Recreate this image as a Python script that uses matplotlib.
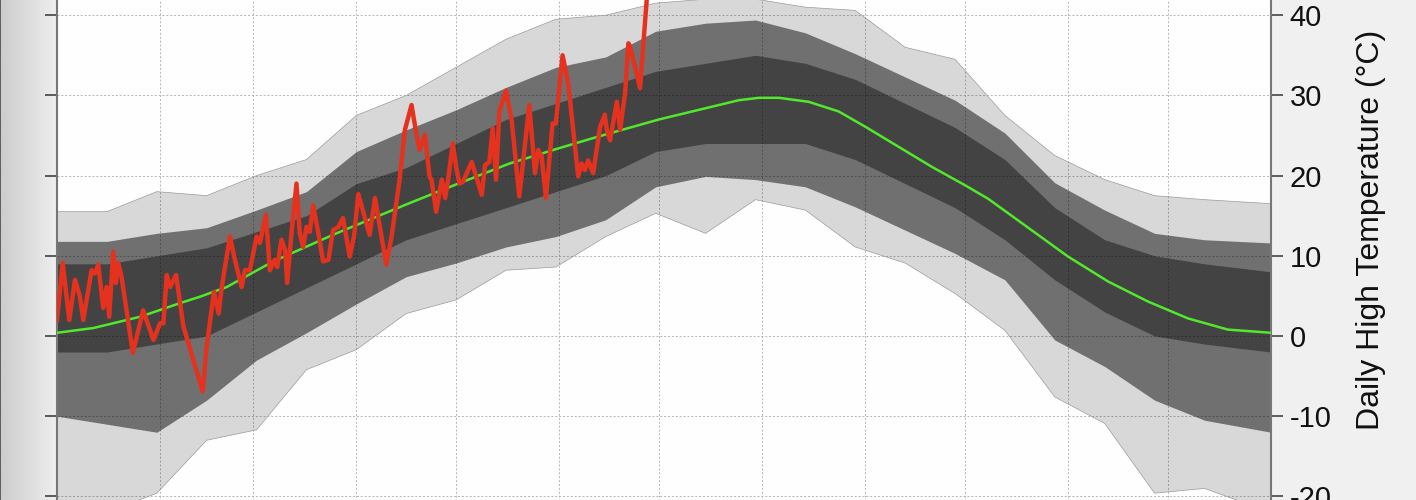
import numpy as np
import matplotlib
matplotlib.use('Agg')
import matplotlib.pyplot as plt

plt.rcParams['font.family'] = ['Liberation Sans', 'DejaVu Sans']
plt.rcParams['axes.unicode_minus'] = False

# month starts (day of year) used for the vertical grid
month_starts = [0, 31, 59, 90, 120, 151, 181, 212, 243, 273, 304, 334, 365]
y_ticks = [-20, -10, 0, 10, 20, 30, 40]

# climatological mean daily high (green)
clim_day = [0, 11, 25, 37, 43, 51, 65, 84, 91, 105, 120, 136, 150, 163, 181, 193,
            205, 211, 217, 226, 235, 243, 253, 263, 273, 280, 292, 304, 316, 328,
            340, 352, 365]
clim_temp = [0.4, 1.0, 2.4, 4.1, 4.9, 6.1, 9.3, 12.8, 14.0, 16.4, 18.9, 21.5, 23.3,
             24.9, 27.0, 28.2, 29.4, 29.7, 29.7, 29.2, 28.0, 26.1, 23.6, 21.1, 18.8,
             17.1, 13.5, 9.9, 6.8, 4.3, 2.2, 0.8, 0.4]

# spread of all past years (black band), read per half month
band_day = [0, 15, 30, 45, 60, 75, 90, 105, 120, 135, 150, 165, 180, 195, 210, 225,
            240, 255, 270, 285, 300, 315, 330, 345, 365]
band_max = [15.5, 15.5, 18, 17.5, 20, 22, 27.5, 30, 33.5, 37, 39.5, 40, 41.5, 42, 42,
            41, 40.6, 36, 34.5, 27.5, 22.5, 19.5, 17.5, 17, 16.5]
band_hi = [11.8, 11.8, 12.8, 13.5, 15.7, 18, 23, 25.7, 28.2, 31, 33.5, 34.8, 38, 39,
           39.4, 37.8, 35.2, 32.3, 29.4, 25.3, 19.1, 15.7, 12.8, 12, 11.6]
band_core_hi = [9, 9, 10, 11, 13, 15, 19, 21, 24, 27, 29, 31, 33, 34, 35, 34, 32, 29,
                26, 22, 16, 12, 10, 9, 8]
band_core_lo = [-2, -2, -1, 0, 3, 6, 9, 12, 14, 16, 18, 20, 23, 24, 24, 24, 22, 19,
                16, 12, 7, 3, 0, -1, -2]
band_lo = [-10, -11, -12, -8, -3, 0.4, 4, 7.4, 9.1, 11.1, 12.4, 14.5, 18.6, 19.9,
           19.5, 18.6, 16.1, 13.2, 10.3, 7.0, -0.5, -3.8, -8, -10.5, -12]
band_min = [-22, -22, -19.6, -13, -11.7, -4.2, -1.7, 2.8, 4.5, 8.2, 8.6, 12.4, 15.3,
            12.8, 17, 15.7, 11.1, 9.1, 5.3, 0.7, -7.6, -10.9, -19.6, -19, -22]

# current year (red)
red_day = [0, 1.7, 3.7, 5.4, 6.9, 7.9, 10.4, 11.4, 12.4, 13.9,
           14.9, 15.7, 16.9, 17.7, 18.4, 19.4, 22.8, 25.9, 29.0, 31.0,
           32.0, 33.0, 34.0, 35.8, 38.0, 43.8, 45.0, 47.2, 48.6, 49.4,
           50.2, 52.0, 53.5, 55.5, 56.5, 58.0, 60.0, 61.0, 62.8, 64.0,
           65.5, 66.2, 67.5, 68.6, 69.2, 70.5, 72.0, 73.0, 74.0, 75.0,
           76.0, 77.0, 78.6, 80.0, 81.6, 83.0, 84.6, 86.0, 88.0, 89.3,
           90.6, 94.0, 95.6, 99.0, 100.6, 103.0, 104.6, 106.6, 108.0, 109.0,
           110.6, 112.0, 112.6, 114.0, 115.7, 116.7, 117.6, 119.0, 120.0, 121.0,
           122.0, 124.7, 127.7, 128.7, 130.0, 131.0, 132.0, 133.0, 135.0, 136.7,
           139.0, 142.0, 143.7, 144.7, 145.7, 147.0, 149.0, 150.0, 152.0, 153.7,
           156.7, 157.7, 158.7, 159.7, 161.2, 163.3, 164.7, 165.3, 166.3, 168.3,
           169.3, 170.8, 171.8, 172.3, 175.3, 177.3, 178.0]
red_temp = [2.0, 9.1, 2.0, 7.0, 4.9, 2.0, 8.2, 7.8, 8.9, 3.5,
            6.1, 2.4, 10.5, 6.6, 9.1, 7.4, -2.1, 3.2, -0.5, 1.6,
            1.6, 7.6, 6.1, 7.6, 1.2, -6.9, -1.3, 5.5, 2.8, 5.7,
            7.8, 12.4, 9.5, 6.1, 8.2, 8.2, 12.4, 11.6, 15.1, 8.2,
            9.5, 8.6, 12.0, 10.7, 6.6, 12.8, 19.0, 12.8, 11.1, 13.6,
            13.0, 16.3, 12.8, 9.3, 9.5, 13.2, 13.6, 14.7, 9.9, 12.4,
            17.7, 12.6, 17.2, 8.9, 12.4, 19.5, 25.7, 28.8, 25.3, 23.2,
            25.1, 19.9, 19.5, 15.5, 19.5, 17.2, 19.5, 24.0, 21.1, 19.0,
            19.2, 21.7, 17.6, 21.3, 21.7, 25.9, 19.5, 28.0, 30.6, 26.9,
            17.4, 28.8, 20.3, 23.2, 22.4, 17.2, 26.5, 26.5, 35.0, 31.5,
            19.9, 21.5, 20.7, 21.9, 20.3, 26.1, 27.6, 25.7, 24.4, 29.2,
            25.7, 30.3, 36.5, 36.1, 30.9, 41.9, 44.0]


fig = plt.figure(figsize=(14.16, 5.0), dpi=100)
fig.patch.set_facecolor('#f0f0f0')

# grey gradient strip on the left
bg = fig.add_axes([0, 0, 55 / 1416, 1])
grad = np.linspace(0.80, 0.93, 64).reshape(1, -1)
bg.imshow(grad, aspect='auto', cmap='gray', vmin=0, vmax=1, extent=[0, 1, 0, 1])
bg.axvline(0.008, color='#4a4a4a', lw=1.2)
bg.set_axis_off()

ax = fig.add_axes([57 / 1416, -0.02488, 1214 / 1416, 1.02656])
ax.set_facecolor('#fefefe')

ax.fill_between(band_day, band_min, band_max, color='black', alpha=0.15, lw=0, zorder=2)
ax.fill_between(band_day, band_lo, band_hi, color='black', alpha=0.48, lw=0, zorder=2)
ax.fill_between(band_day, band_core_lo, band_core_hi, color='black', alpha=0.4, lw=0, zorder=2)
ax.plot(band_day, band_max, color='#9a9a9a', lw=0.5, zorder=2)
ax.plot(band_day, band_min, color='#9a9a9a', lw=0.5, zorder=2)

ax.plot(clim_day, clim_temp, color='#52e82c', lw=1.8, zorder=4)
ax.plot(red_day, red_temp, color='#e5321f', lw=3.2, zorder=5, solid_joinstyle='round')

ax.set_xlim(0, 365)
ax.set_ylim(-22, 42)
ax.set_xticks(month_starts)
ax.set_yticks(y_ticks)
ax.grid(True, color='#b4b4b4', lw=0.7, linestyle=(0, (2, 2)), zorder=0)
ax.set_axisbelow(True)

ax.tick_params(axis='y', left=True, right=True, labelleft=False, labelright=True,
               direction='out', length=8.5, width=1.1, pad=5, labelsize=21,
               color='#333333', labelcolor='#111111')
ax.tick_params(axis='x', bottom=False, labelbottom=False)
for side in ['left', 'right']:
    ax.spines[side].set_color('#777777')
    ax.spines[side].set_linewidth(1.5)
for side in ['top', 'bottom']:
    ax.spines[side].set_visible(False)

fig.text(1371 / 1416, 1 - 230 / 500, 'Daily High Temperature (°C)', rotation=90,
         ha='center', va='center', fontsize=23, color='#111111')

fig.savefig('out.png', dpi=100, facecolor=fig.get_facecolor())
